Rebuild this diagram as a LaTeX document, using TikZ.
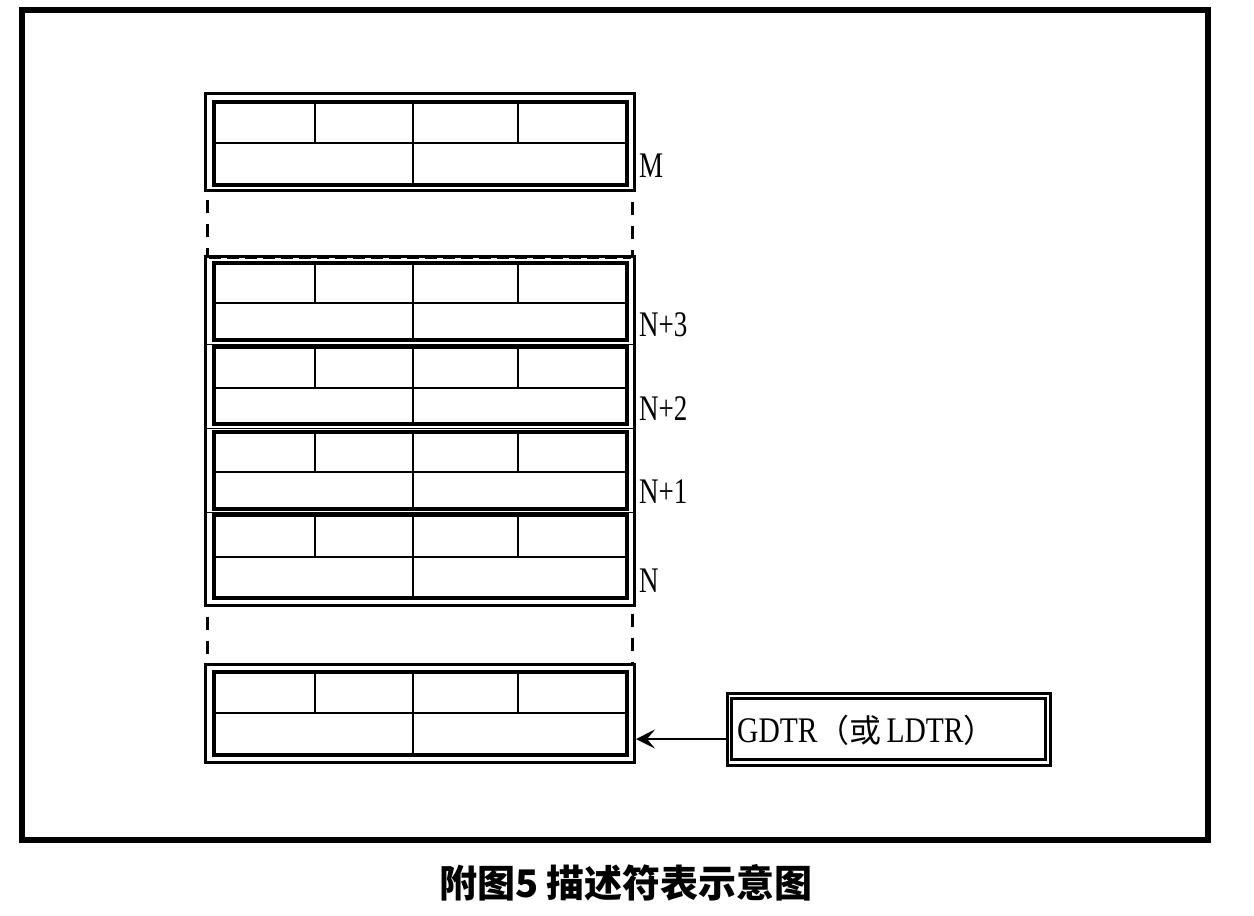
\documentclass[tikz,border=0pt]{standalone}
\usepackage{fontspec}
\setmainfont{Liberation Serif}
\newfontfamily\cjk{Noto Sans CJK SC}
\usetikzlibrary{arrows.meta}
\newcommand\cond[1]{\scalebox{0.75}[1]{#1}}
\newcommand\myrecord[3]{%
  \draw[innerline] (214,#1) rectangle (627,#2);
  \draw[gridline] (214,#3) -- (627,#3);
  \draw[gridline] (315,#1) -- (315,#3);
  \draw[gridline] (413,#1) -- (413,#2);
  \draw[gridline] (518,#1) -- (518,#3);
}
\tikzset{
  frameline/.style={line width=6pt},
  outerbox/.style={draw, rectangle, line width=3pt, inner sep=0pt, minimum width=429pt},
  innerline/.style={line width=3.5pt},
  gridline/.style={line width=2.2pt},
  sepline/.style={line width=1pt},
  dashline/.style={line width=3pt, dash pattern=on 13pt off 11pt},
  lab/.style={anchor=west, inner sep=0pt, font=\fontsize{36}{36}\selectfont},
  arr/.style={line width=1.8pt, -{Stealth[length=19pt,width=19pt,inset=8pt]}}
}
\begin{document}
\begin{tikzpicture}[x=1pt,y=-1pt]
\useasboundingbox (0,0) rectangle (1254,916);
\draw[frameline] (22,10) rectangle (1208,840);

% M box
\node[outerbox, minimum height=97pt] (mbox) at (420,142) {};
\myrecord{102}{185}{143}

% stack of four records
\node[outerbox, minimum height=349pt] (stack) at (420,430.5) {};
\draw[sepline, dash pattern=on 12pt off 6pt] (209,258.5) -- (631,258.5);
\myrecord{263}{340}{303}
\draw[sepline] (205.5,344) -- (634.5,344);
\myrecord{347}{424}{388}
\draw[sepline] (205.5,428) -- (634.5,428);
\myrecord{432}{509}{472}
\draw[sepline] (205.5,512) -- (634.5,512);
\myrecord{515}{598}{557}

% base box
\node[outerbox, minimum height=98pt] (base) at (420,713) {};
\myrecord{672}{755}{713}

% dashed continuation lines
\draw[dashline] ([xshift=3.5pt,yshift=-8pt]mbox.south west) -- ([xshift=3.5pt]stack.north west);
\draw[dashline] ([xshift=-3.5pt,yshift=-10pt]mbox.south east) -- ([xshift=-3.5pt]stack.north east);
\draw[dashline] ([xshift=3.5pt,yshift=-10pt]stack.south west) -- ([xshift=3.5pt]base.north west);
\draw[dashline] ([xshift=-3.5pt,yshift=-7pt]stack.south east) -- ([xshift=-3.5pt]base.north east);

% labels
\node[lab] (lM)  at (639,166) {\cond{M}};
\node[lab] (lN3) at (639,325) {\cond{N+3}};
\node[lab] (lN2) at (639,409) {\cond{N+2}};
\node[lab] (lN1) at (639,492) {\cond{N+1}};
\node[lab] (lN)  at (639,581) {\cond{N}};

% GDTR box
\node[draw, rectangle, line width=3pt, minimum width=323pt, minimum height=72pt, inner sep=0pt] (gdtr) at (888.5,729) {};
\draw[line width=3pt] ([shift={(6pt,-7pt)}]gdtr.north west) rectangle ([shift={(-6pt,7pt)}]gdtr.south east);
\node[lab] (gtext) at (737,730) {\scalebox{0.82}[1]{GDTR}{\cjk\fontsize{32}{32}\selectfont （或}\hspace{5pt}\scalebox{0.82}[1]{LDTR}{\cjk\fontsize{32}{32}\selectfont ）}};

% arrow
\coordinate (ay) at (0,739);
\draw[arr] (gdtr.west |- ay) -- (base.east |- ay);

% caption
\node[font=\cjk\bfseries\fontsize{38}{38}\selectfont, inner sep=0pt] (cap) at (626,883) {附图5 描述符表示意图};
\end{tikzpicture}
\end{document}
